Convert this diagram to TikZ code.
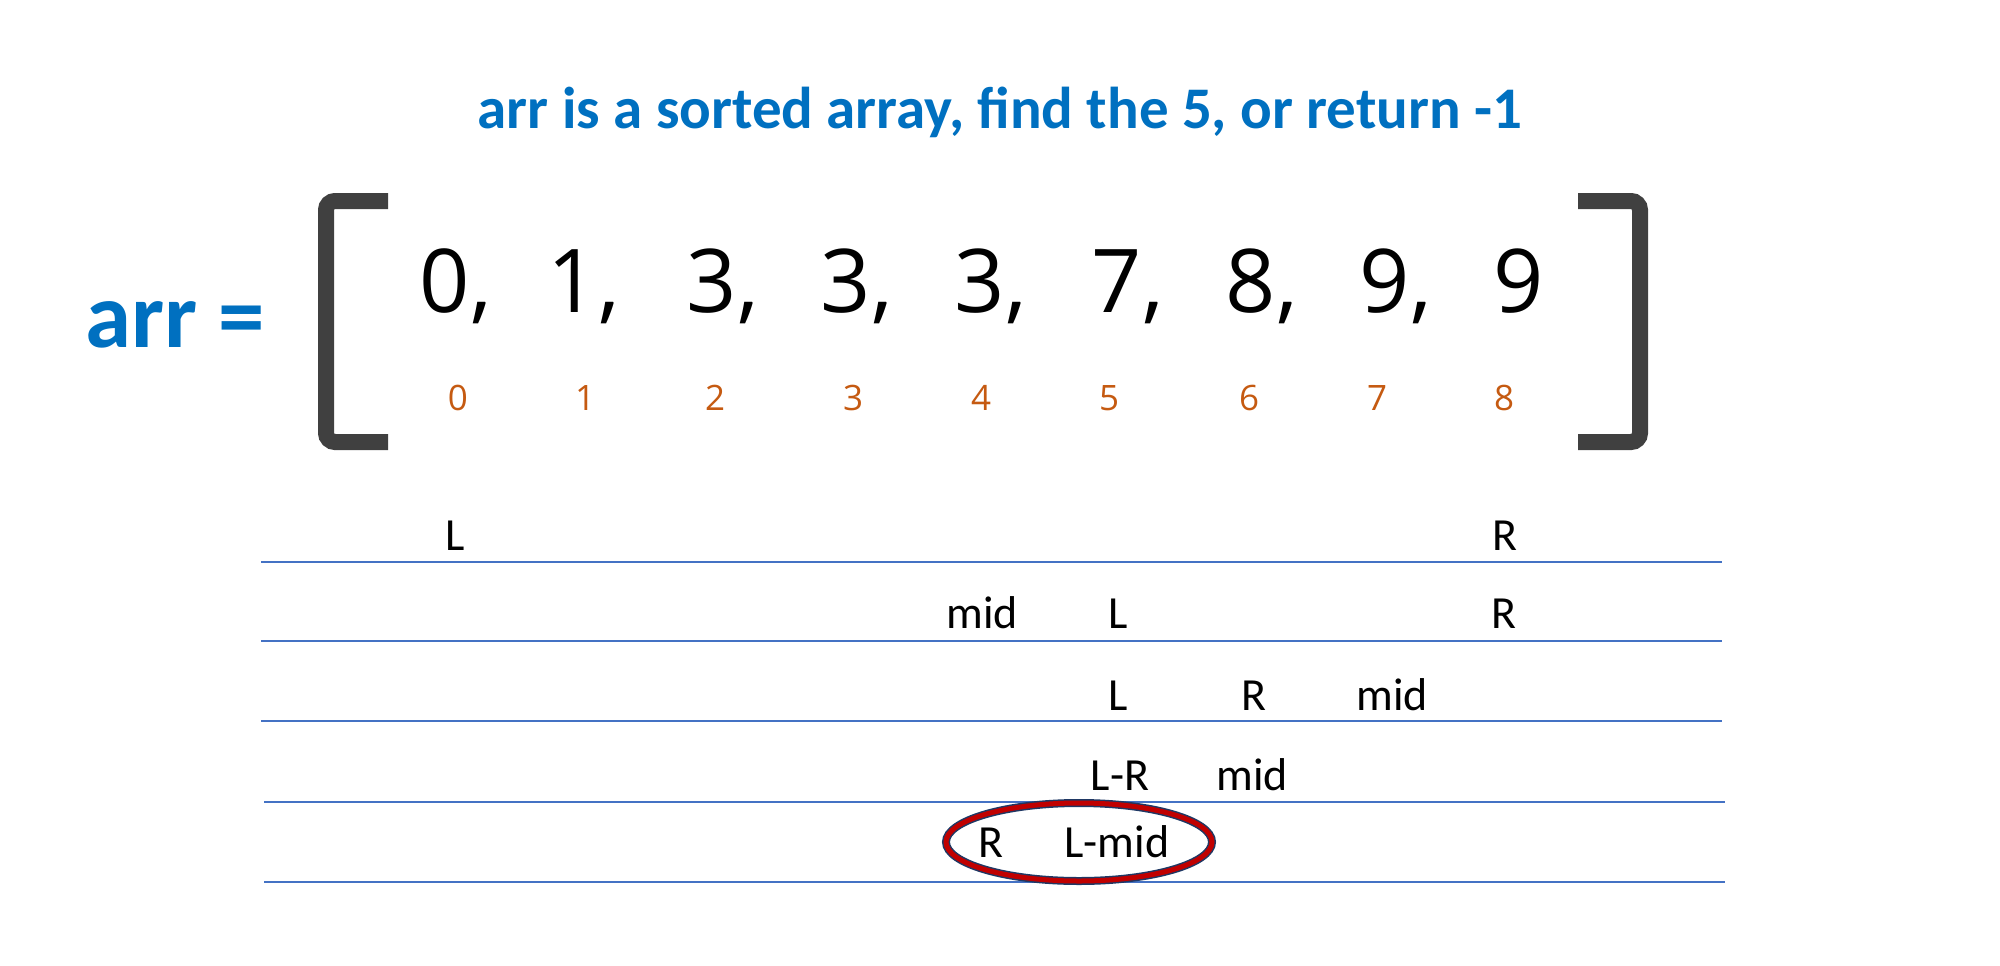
\documentclass[tikz,border=0pt]{standalone}
\usepackage{fontspec}
\setmainfont{Carlito}
\newfontfamily\numfont{Open Sans}
\definecolor{titleblue}{HTML}{0070C0}
\definecolor{idxorange}{HTML}{C55A11}
\definecolor{rulebluec}{HTML}{4472C4}
\definecolor{brackgray}{HTML}{404040}
\definecolor{ovalred}{HTML}{C00000}
\definecolor{ovalnavy}{HTML}{1F3864}
\tikzset{
  ttl/.style={anchor=base, inner sep=0pt, text=titleblue, font=\fontsize{59}{70}\selectfont\bfseries},
  arrlbl/.style={anchor=base west, inner sep=0pt, text=titleblue, font=\fontsize{93}{110}\selectfont\bfseries},
  bignum/.style={anchor=base, inner sep=0pt, font=\numfont\fontsize{88}{100}\selectfont},
  idx/.style={anchor=base, inner sep=0pt, text=idxorange, font=\numfont\fontsize{35}{40}\selectfont},
  lbl/.style={anchor=base, inner sep=0pt, font=\fontsize{46}{55}\selectfont},
  rowrule/.style={draw=rulebluec, line width=2pt},
  brack/.style={draw=brackgray, line width=16pt, rounded corners=9pt},
}
\begin{document}
\begin{tikzpicture}[x=1pt,y=-1pt]
\useasboundingbox (0,0) rectangle (2000,966);
% title
\node[ttl] (title) at (1000,128) {arr is a sorted array, find the 5, or return -1};
\node[arrlbl] (arr) at (85,347) {arr =};
% brackets
\coordinate (lb1) at (388,201); \coordinate (lb2) at (326,201);
\coordinate (lb3) at (326,442); \coordinate (lb4) at (388,442);
\draw[brack] (lb1) -- (lb2) -- (lb3) -- (lb4);
\coordinate (rb1) at (1578,201); \coordinate (rb2) at (1640,201);
\coordinate (rb3) at (1640,442); \coordinate (rb4) at (1578,442);
\draw[brack] (rb1) -- (rb2) -- (rb3) -- (rb4);
% values
\node[bignum] (v0) at (445,312) {0\rlap{,}};
\node[bignum] (v1) at (573,312) {1\rlap{,}};
\node[bignum] (v2) at (712,312) {3\rlap{,}};
\node[bignum] (v3) at (846,312) {3\rlap{,}};
\node[bignum] (v4) at (980,312) {3\rlap{,}};
\node[bignum] (v5) at (1117,312) {7\rlap{,}};
\node[bignum] (v6) at (1251,312) {8\rlap{,}};
\node[bignum] (v7) at (1385,312) {9\rlap{,}};
\node[bignum] (v8) at (1519,312) {9};
% indices
\node[idx] (i0) at (458,410) {0};
\node[idx] (i1) at (585,410) {1};
\node[idx] (i2) at (715,410) {2};
\node[idx] (i3) at (853,410) {3};
\node[idx] (i4) at (981,410) {4};
\node[idx] (i5) at (1109,410) {5};
\node[idx] (i6) at (1249,410) {6};
\node[idx] (i7) at (1377,410) {7};
\node[idx] (i8) at (1504,410) {8};
% rules
\coordinate (r1a) at (261,562); \coordinate (r1b) at (1722,562);
\coordinate (r2a) at (261,641); \coordinate (r2b) at (1722,641);
\coordinate (r3a) at (261,721); \coordinate (r3b) at (1722,721);
\coordinate (r4a) at (264,802); \coordinate (r4b) at (1725,802);
\coordinate (r5a) at (264,882); \coordinate (r5b) at (1725,882);
\draw[rowrule] (r1a) -- (r1b);
\draw[rowrule] (r2a) -- (r2b);
\draw[rowrule] (r3a) -- (r3b);
\draw[rowrule] (r4a) -- (r4b);
\draw[rowrule] (r5a) -- (r5b);
% row 1
\node[lbl] (a1L) at (455,550) {L};
\node[lbl] (a1R) at (1505,550) {R};
% row 2
\node[lbl] (a2m) at (982,628) {mid};
\node[lbl] (a2L) at (1118,628) {L};
\node[lbl] (a2R) at (1504,628) {R};
% row 3
\node[lbl] (a3L) at (1118,710) {L};
\node[lbl] (a3R) at (1254,710) {R};
\node[lbl] (a3m) at (1392,710) {mid};
% row 4
\node[lbl] (a4LR) at (1120,790) {L-R};
\node[lbl] (a4m) at (1252,790) {mid};
% row 5
\draw[draw=ovalnavy, line width=8pt] (1079,842) ellipse [x radius=133, y radius=39];
\draw[draw=ovalred, line width=5pt] (1079,842) ellipse [x radius=133, y radius=39];
\node[lbl] (a5R) at (991,857) {R};
\node[lbl] (a5Lm) at (1117,857) {L-mid};
\end{tikzpicture}
\end{document}
